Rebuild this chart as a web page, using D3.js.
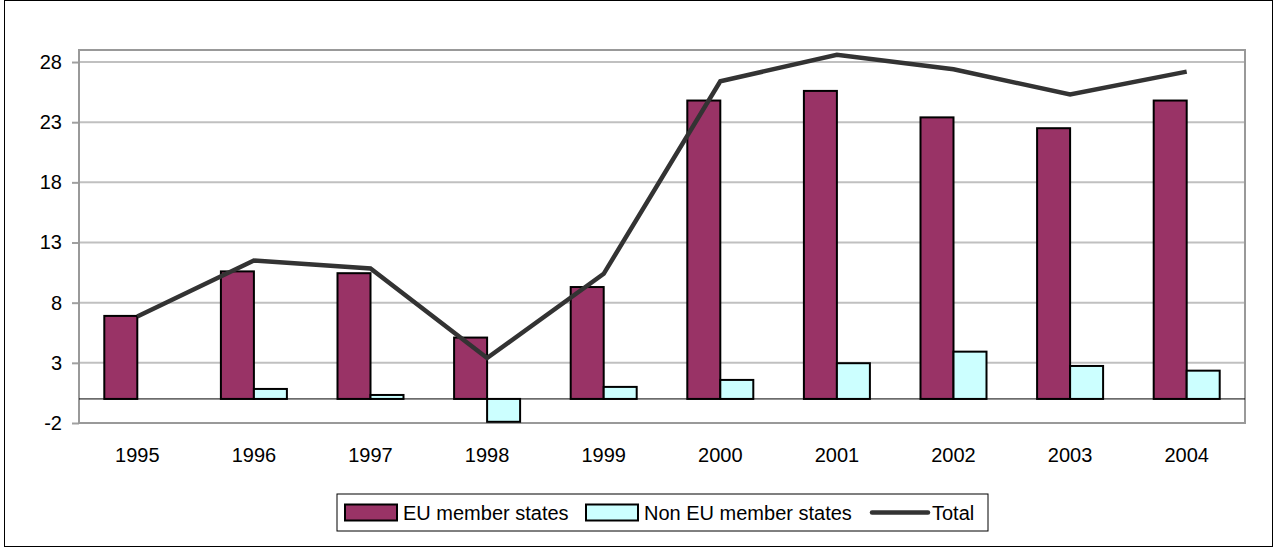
<!DOCTYPE html>
<html>
<head>
<meta charset="utf-8">
<script src="https://cdn.jsdelivr.net/npm/d3@7"></script>
<style>
  html, body { margin: 0; padding: 0; background: #fff; }
  svg { display: block; font-family: "Liberation Sans", Arial, sans-serif; }
</style>
</head>
<body>
<svg id="chart" width="1275" height="549"></svg>
<script>
const years = ["1995","1996","1997","1998","1999","2000","2001","2002","2003","2004"];
const euValues = [6.9, 10.6, 10.45, 5.1, 9.3, 24.8, 25.6, 23.4, 22.5, 24.8];
const nonEuValues = [0, 0.83, 0.33, -1.9, 1.0, 1.58, 2.97, 3.93, 2.74, 2.35];
const totalValues = [6.85, 11.5, 10.85, 3.4, 10.4, 26.4, 28.6, 27.4, 25.3, 27.2];
const yTicks = [-2, 3, 8, 13, 18, 23, 28];
const seriesNames = ["EU member states", "Non EU member states", "Total"];

const svg = d3.select("#chart");
const plot = { left: 79, right: 1245, top: 50, bottom: 423 };
const FONT = "Liberation Sans, Arial, sans-serif";

// outer frame
svg.append("rect").attr("x", 4.5).attr("y", 0.5).attr("width", 1268).attr("height", 546)
  .attr("fill", "#fff").attr("stroke", "#000").attr("stroke-width", 1);

const x = d3.scaleBand().domain(years).range([plot.left, plot.right]).padding(0);
const y = d3.scaleLinear().domain([-2, 29]).range([plot.bottom, plot.top]);

// gridlines
svg.append("g").selectAll("line").data(yTicks).join("line")
  .attr("x1", plot.left).attr("x2", plot.right)
  .attr("y1", d => y(d)).attr("y2", d => y(d))
  .attr("stroke", "#c0c0c0").attr("stroke-width", 2);

// y axis
const yAxis = d3.axisLeft(y).tickValues(yTicks).tickFormat(d => String(d)).tickSize(7).tickPadding(10);
const ya = svg.append("g").attr("transform", `translate(${plot.left},0)`).call(yAxis)
  .attr("font-size", 20).attr("font-family", FONT);
ya.select(".domain").remove();
ya.selectAll(".tick line").attr("stroke", "#a0a0a0").attr("stroke-width", 2);
ya.selectAll(".tick text").attr("fill", "#000");

// plot border
svg.append("rect").attr("x", plot.left).attr("y", plot.top)
  .attr("width", plot.right - plot.left).attr("height", plot.bottom - plot.top)
  .attr("fill", "none").attr("stroke", "#999").attr("stroke-width", 2);

// zero line
svg.append("line").attr("x1", plot.left).attr("x2", plot.right)
  .attr("y1", y(0)).attr("y2", y(0)).attr("stroke", "#000").attr("stroke-width", 1);

// bars
const bw = 33;
svg.append("g").selectAll("rect").data(years).join("rect")
  .attr("x", d => x(d) + x.bandwidth() / 2 - bw)
  .attr("width", bw)
  .attr("y", (d, i) => y(Math.max(0, euValues[i])))
  .attr("height", (d, i) => Math.abs(y(euValues[i]) - y(0)))
  .attr("fill", "#993366").attr("stroke", "#000").attr("stroke-width", 2);

svg.append("g").selectAll("rect").data(years.filter((d, i) => nonEuValues[i] !== 0)).join("rect")
  .attr("x", d => x(d) + x.bandwidth() / 2)
  .attr("width", bw)
  .attr("y", d => y(Math.max(0, nonEuValues[years.indexOf(d)])))
  .attr("height", d => Math.abs(y(nonEuValues[years.indexOf(d)]) - y(0)))
  .attr("fill", "#ccffff").attr("stroke", "#000").attr("stroke-width", 2);

// total line
const line = d3.line().x((d, i) => x(years[i]) + x.bandwidth() / 2).y(d => y(d));
svg.append("path").datum(totalValues).attr("d", line)
  .attr("fill", "none").attr("stroke", "#333").attr("stroke-width", 4.5)
  .attr("stroke-linejoin", "miter");

// x axis labels
const xAxis = d3.axisBottom(x).tickSize(0).tickPadding(25);
const xa = svg.append("g").attr("transform", `translate(0,${plot.bottom})`).call(xAxis)
  .attr("font-size", 20).attr("font-family", FONT);
xa.select(".domain").remove();
xa.selectAll(".tick text").attr("fill", "#000");

// legend
const lg = svg.append("g").attr("font-family", FONT);
const lx = 337, ly = 494, lw = 651, lh = 37;
lg.append("rect").attr("x", lx).attr("y", ly).attr("width", lw).attr("height", lh)
  .attr("fill", "#fff").attr("stroke", "#000").attr("stroke-width", 1);
const cy = ly + lh / 2;
const items = [
  { type: "rect", fill: "#993366", sx: 345, tx: 403 },
  { type: "rect", fill: "#ccffff", sx: 586, tx: 644 },
  { type: "line", sx: 872, tx: 932 }
];
items.forEach((it, i) => {
  if (it.type === "rect") {
    lg.append("rect").attr("x", it.sx).attr("y", cy - 8).attr("width", 52).attr("height", 16)
      .attr("fill", it.fill).attr("stroke", "#000").attr("stroke-width", 2);
  } else {
    lg.append("line").attr("x1", it.sx).attr("x2", it.sx + 56).attr("y1", cy).attr("y2", cy)
      .attr("stroke", "#333").attr("stroke-width", 4.5).attr("stroke-linecap", "round");
  }
  lg.append("text").attr("x", it.tx).attr("y", cy).attr("dy", "0.36em")
    .attr("font-size", 20).attr("fill", "#000").text(seriesNames[i]);
});
</script>
</body>
</html>
